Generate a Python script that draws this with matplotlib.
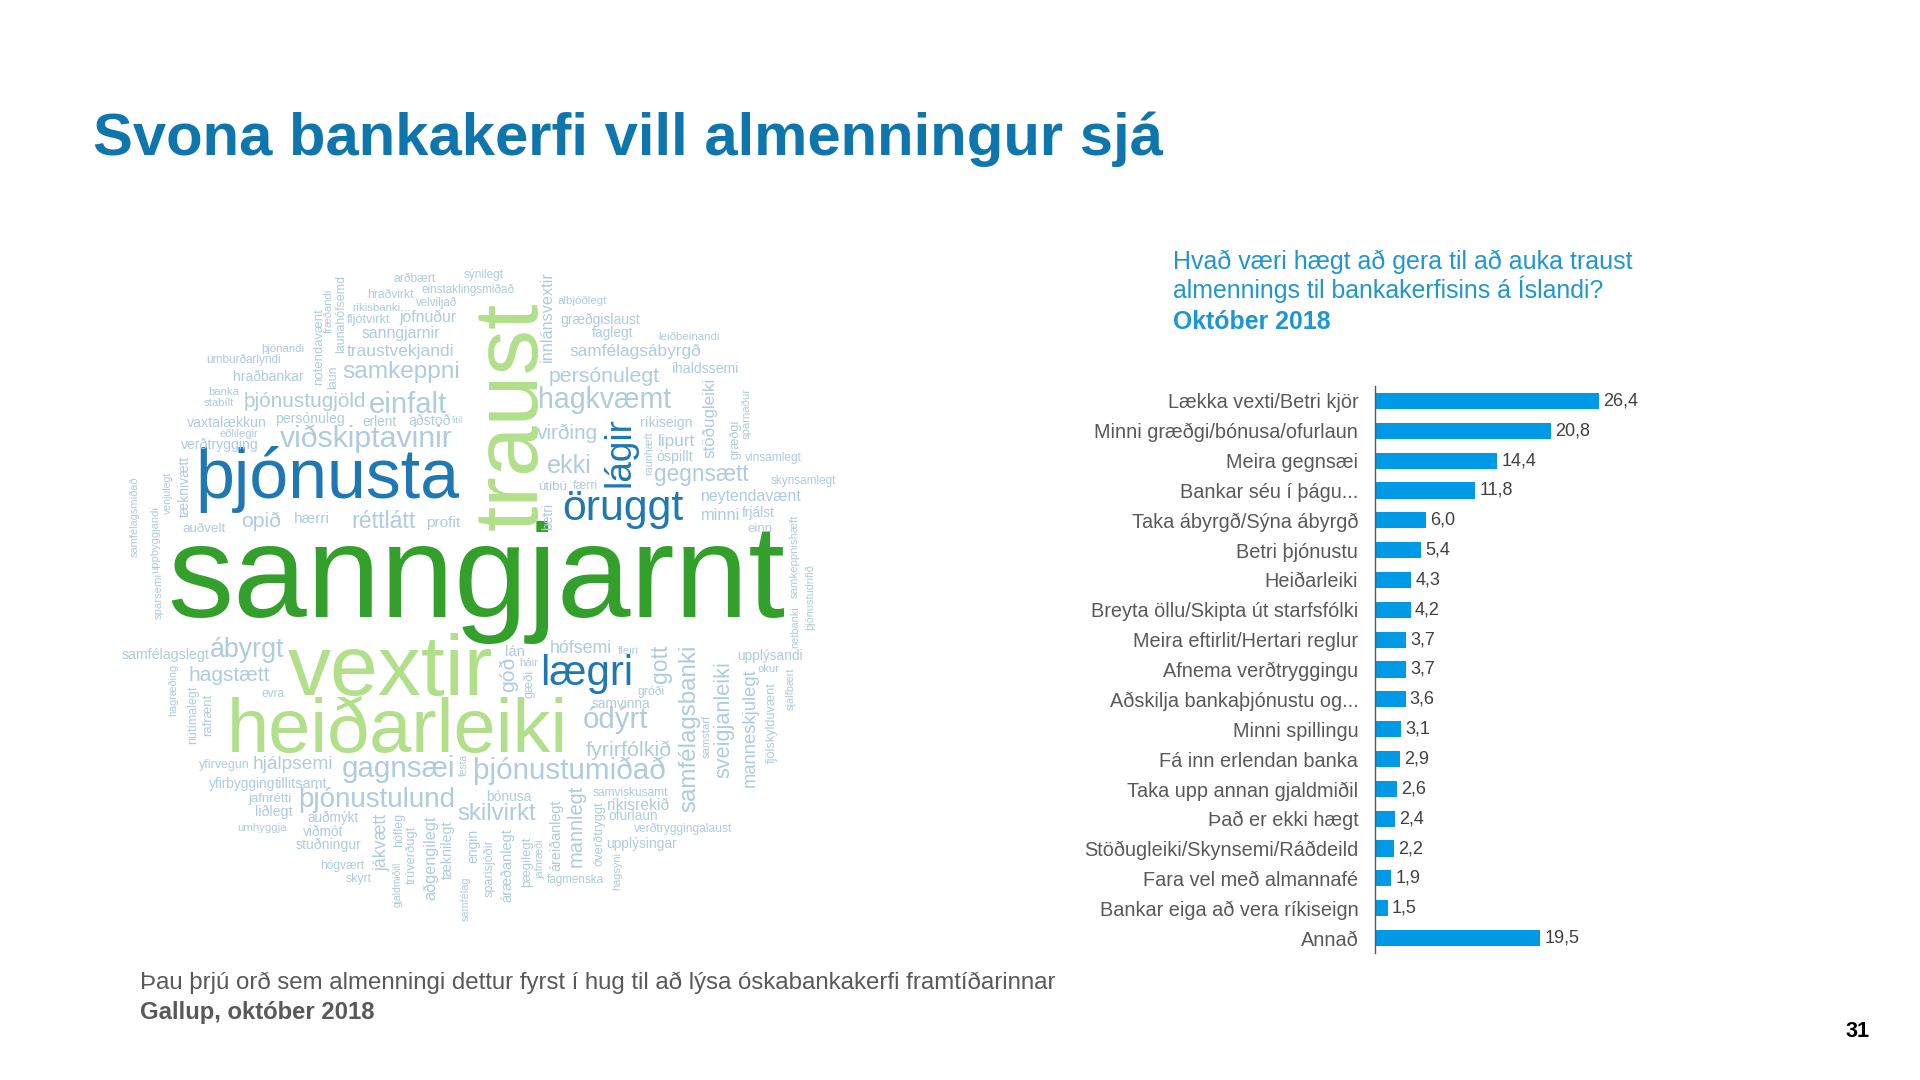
import matplotlib
matplotlib.use("Agg")
import matplotlib.pyplot as plt

plt.rcParams['font.family'] = ['Liberation Sans', 'DejaVu Sans']

# bar chart data
categories = ["Lækka vexti/Betri kjör", "Minni græðgi/bónusa/ofurlaun", "Meira gegnsæi",
              "Bankar séu í þágu...", "Taka ábyrgð/Sýna ábyrgð", "Betri þjónustu",
              "Heiðarleiki", "Breyta öllu/Skipta út starfsfólki", "Meira eftirlit/Hertari reglur",
              "Afnema verðtryggingu", "Aðskilja bankaþjónustu og...", "Minni spillingu",
              "Fá inn erlendan banka", "Taka upp annan gjaldmiðil", "Það er ekki hægt",
              "Stöðugleiki/Skynsemi/Ráðdeild", "Fara vel með almannafé",
              "Bankar eiga að vera ríkiseign", "Annað"]
values = [26.4, 20.8, 14.4, 11.8, 6.0, 5.4, 4.3, 4.2, 3.7, 3.7, 3.6, 3.1, 2.9, 2.6, 2.4, 2.2, 1.9, 1.5, 19.5]

# word cloud words by colour
words_green = ["sanngjarnt"]
words_light_green = ["traust", "vextir", "heiðarleiki"]
words_blue = ["þjónusta", "öruggt", "lágir", "lægri"]

# word -> left x, baseline y, length in pixels of the 1920x1080 slide
flat_words = {
    "sanngjarnt": (167, 617, 616), "vextir": (288, 695, 205), "heiðarleiki": (227, 752, 341),
    "þjónusta": (195, 498, 263), "öruggt": (562, 520, 121), "lægri": (540, 685, 93),
    "arðbært": (394, 282, 42), "hraðvirkt": (367, 298, 46), "einstaklingsmiðað": (421, 293, 92),
    "sýnilegt": (464, 278, 40), "velviljað": (416, 306, 41), "ríkisbanki": (352, 311, 48),
    "fljótvirkt": (347, 323, 43), "jöfnuður": (399, 322, 57), "sanngjarnir": (362, 338, 78),
    "traustvekjandi": (347, 356, 107), "samkeppni": (342, 378, 118), "einfalt": (369, 413, 78),
    "þjónustugjöld": (244, 407, 122), "persónuleg": (275, 423, 69), "erlent": (362, 426, 34),
    "aðstoð": (408, 425, 42), "lítil": (451, 423, 11), "viðskiptavinir": (280, 447, 173),
    "vaxtalækkun": (187, 427, 79), "eðlilegir": (220, 437, 39), "verðtrygging": (181, 449, 77),
    "stabílt": (204, 406, 30), "banka": (208, 395, 31), "hraðbankar": (233, 381, 70),
    "umburðarlyndi": (206, 363, 74), "þjónandi": (261, 352, 43), "opið": (241, 527, 40),
    "auðvelt": (182, 532, 43), "hærri": (294, 523, 36), "réttlátt": (351, 528, 64),
    "profit": (426, 527, 34), "albjóðlegt": (558, 304, 49), "græðgislaust": (560, 324, 79),
    "faglegt": (592, 337, 41), "leiðbeinandi": (658, 340, 61), "samfélagsábyrgð": (569, 356, 131),
    "íhaldssemi": (671, 373, 67), "persónulegt": (549, 382, 111), "hagkvæmt": (538, 408, 133),
    "virðing": (537, 439, 61), "ríkiseign": (640, 427, 52), "lipurt": (658, 446, 37),
    "óspillt": (656, 461, 36), "ekki": (547, 473, 45), "gegnsætt": (654, 481, 94),
    "útibú": (538, 490, 29), "færri": (573, 489, 25), "vinsamlegt": (745, 461, 57),
    "skynsamlegt": (771, 484, 65), "neytendavænt": (701, 501, 100), "minni": (701, 520, 39),
    "frjálst": (742, 517, 33), "einn": (747, 532, 25), "samfélagslegt": (122, 659, 87),
    "ábyrgt": (210, 657, 74), "hagstætt": (189, 681, 81), "evra": (262, 697, 23),
    "yfirvegun": (199, 768, 50), "hjálpsemi": (253, 769, 81), "gagnsæi": (342, 777, 113),
    "yfirbygging": (209, 788, 66), "tillitsamt": (275, 788, 52), "jafnrétti": (248, 802, 43),
    "þjónustulund": (298, 807, 157), "liðlegt": (255, 816, 37), "auðmýkt": (307, 822, 51),
    "umhyggja": (237, 831, 49), "viðmót": (303, 836, 40), "stuðningur": (296, 849, 65),
    "hógvært": (320, 869, 44), "skýrt": (346, 882, 26), "lán": (505, 656, 20),
    "hófsemi": (550, 653, 62), "fleiri": (618, 654, 21), "háir": (519, 666, 19),
    "gróði": (638, 695, 27), "samvinna": (592, 708, 58), "ódýrt": (583, 728, 65),
    "fyrirfólkið": (586, 756, 86), "þjónustumiðað": (473, 779, 192), "bónusa": (486, 801, 45),
    "skilvirkt": (457, 820, 79), "samviskusamt": (593, 796, 75), "ríkisrekið": (607, 810, 63),
    "ofurlaun": (608, 820, 49), "verðtryggingalaust": (634, 832, 98), "upplýsingar": (606, 848, 70),
    "fagmenska": (547, 883, 57), "upplýsandi": (737, 660, 65), "okur": (757, 672, 22),
}

# word -> baseline x, bottom y, length, for the words that read upwards
upright_words = {
    "traust": (537, 530, 227), "lágir": (630, 487, 70), "notendavænt": (322, 385, 76),
    "fræðandi": (332, 333, 44), "launahófsemd": (344, 353, 78), "laun": (336, 389, 23),
    "tæknivætt": (189, 517, 61), "venjulegt": (171, 514, 42), "samfélagsmiðað": (138, 557, 80),
    "uppbyggjandi": (158, 573, 66), "sparsemi": (162, 619, 46), "innlánsvextir": (552, 362, 90),
    "stöðugleiki": (714, 458, 80), "sparnaður": (750, 439, 51), "græðgi": (738, 459, 39),
    "raunhæft": (652, 475, 43), "betri": (552, 530, 27), "netbanki": (798, 648, 41),
    "samkeppnishæft": (798, 598, 83), "þjónustudrifið": (813, 630, 65), "hagræðing": (176, 716, 51),
    "nútímalegt": (196, 744, 58), "rafrænt": (211, 736, 42), "festa": (467, 776, 22),
    "jákvætt": (386, 871, 57), "hófleg": (402, 847, 34), "trúverðugt": (415, 884, 58),
    "gjaldmiðill": (401, 907, 45), "aðgengilegt": (435, 900, 84), "tæknilegt": (452, 879, 58),
    "samfélag": (469, 921, 44), "góð": (514, 692, 35), "gæði": (532, 698, 28),
    "gott": (667, 683, 38), "samfélagsbanki": (695, 812, 167), "sveigjanleiki": (729, 778, 117),
    "manneskjulegt": (755, 787, 118), "samstarf": (710, 758, 43), "fjölskylduvænt": (775, 763, 80),
    "sjálfbært": (794, 710, 42), "mannlegt": (582, 867, 82), "áreiðanlegt": (560, 871, 71),
    "óverðtryggt": (603, 866, 64), "hagsýni": (620, 890, 38), "jafnræði": (543, 879, 39),
    "þægilegt": (530, 887, 50), "áræðanlegt": (511, 902, 73), "sparisjóðir": (493, 897, 57),
    "engin": (477, 863, 34),
}

fig = plt.figure(figsize=(19.2, 10.8), dpi=100, facecolor='white')

# slide axes in pixel coordinates, for the texts
slide = fig.add_axes([0, 0, 1, 1])
slide.set_xlim(0, 1920)
slide.set_ylim(1080, 0)
slide.axis('off')
renderer = fig.canvas.get_renderer()


def fit_text(s, x, y, length, color, rotation=0, weight='normal'):
    """Put text with its baseline start at x, y, sized to a length in pixels."""
    t = slide.text(x, y, s, color=color, fontsize=20, rotation=rotation, weight=weight,
                   ha='left', va='baseline', rotation_mode='anchor')
    box = t.get_window_extent(renderer)
    measured = box.height if rotation else box.width
    t.set_fontsize(20 * length / measured)
    return t


def word_color(word):
    if word in words_green:
        return '#33a02c'
    if word in words_light_green:
        return '#b2df8a'
    if word in words_blue:
        return '#1f78b4'
    return '#aecbdf'


for word, (x, y, length) in flat_words.items():
    fit_text(word, x, y, length, word_color(word))
for word, (x, y, length) in upright_words.items():
    fit_text(word, x, y, length, word_color(word), rotation=90)

fit_text("Svona bankakerfi vill almenningur sjá", 93, 155, 1067, '#0f75ad', weight='bold')
fit_text("Hvað væri hægt að gera til að auka traust", 1173, 269, 459, '#2196ce')
fit_text("almennings til bankakerfisins á Íslandi?", 1173, 298, 431, '#2196ce')
fit_text("Október 2018", 1173, 329, 158, '#1e96d4', weight='bold')
fit_text("Þau þrjú orð sem almenningi dettur fyrst í hug til að lýsa óskabankakerfi framtíðarinnar",
         140, 989, 917, '#595959')
fit_text("Gallup, október 2018", 140, 1019, 235, '#595959', weight='bold')
fit_text("31", 1846, 1037, 24, '#000000', weight='bold')

# bar chart axes: 8.48 px per percent, 19 bands between y 386 and 953
W, H = 1920, 1080
ax = fig.add_axes([1375 / W, 1 - 953 / H, 254.4 / W, 567 / H])
positions = list(range(len(categories)))
bars = ax.barh(positions, values, height=0.54, color='#0099e6')
ax.set_xlim(0, 30)
ax.set_ylim(len(categories) - 0.5, -0.5)
ax.set_yticks(positions)
ax.set_yticklabels(categories, fontsize=14.3, color='#595959')
ax.tick_params(axis='y', length=0, pad=12)
ax.xaxis.set_visible(False)
ax.patch.set_alpha(0)
for side in ['top', 'right', 'bottom']:
    ax.spines[side].set_visible(False)
ax.spines['left'].set_color('#595959')
ax.spines['left'].set_linewidth(1.0)
for b, v in zip(bars, values):
    ax.annotate(f"{v:.1f}".replace('.', ','), (v, b.get_y() + b.get_height() / 2),
                xytext=(3, 0), textcoords='offset points', va='center', ha='left',
                fontsize=13, color='#404040')

fig.savefig('out.png', dpi=100)
